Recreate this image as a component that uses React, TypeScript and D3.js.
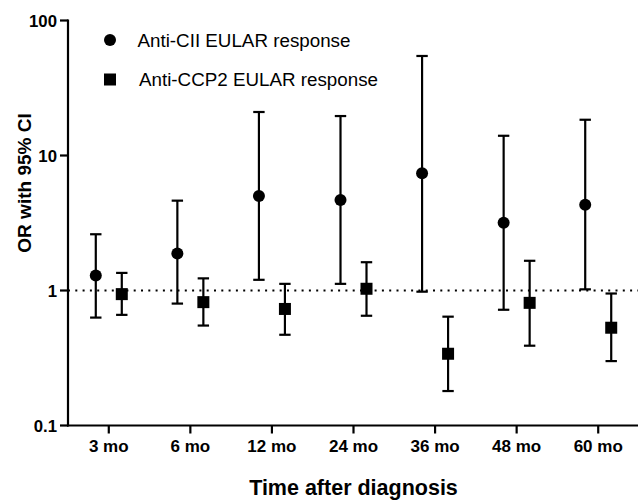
import React from "react";
import * as d3 from "d3";

const categories = ["3 mo", "6 mo", "12 mo", "24 mo", "36 mo", "48 mo", "60 mo"];
const ciiOR = [1.29, 1.88, 5.01, 4.68, 7.38, 3.18, 4.32];
const ciiLow = [0.63, 0.8, 1.2, 1.12, 0.98, 0.72, 1.02];
const ciiHigh = [2.61, 4.63, 21.0, 19.6, 54.6, 14.0, 18.4];
const ccpOR = [0.94, 0.82, 0.73, 1.03, 0.34, 0.81, 0.53];
const ccpLow = [0.66, 0.55, 0.47, 0.65, 0.18, 0.39, 0.3];
const ccpHigh = [1.35, 1.23, 1.12, 1.62, 0.64, 1.66, 0.95];
const yTicks = [0.1, 1, 10, 100];
const yTickLabels = ["0.1", "1", "10", "100"];
const legendLabels = ["Anti-CII EULAR response", "Anti-CCP2 EULAR response"];

const W = 638;
const H = 500;
const FONT = "'Liberation Sans', Arial, Helvetica, sans-serif";

export default function App() {
  const x = d3.scaleBand<string>().domain(categories).range([68, 639]).padding(0);
  const y = d3.scaleLog().domain([0.1, 100]).range([425.5, 20.5]);
  const cx = (c: string) => (x(c) as number) + x.bandwidth() / 2;
  const off = 13;
  const cap = 5.7;
  const sw = 2.2;

  const errorBar = (xc: number, lo: number, hi: number, key: string) => (
    <g key={key} stroke="#000" strokeWidth={sw} fill="none">
      <line x1={xc} x2={xc} y1={y(lo)} y2={y(hi)} />
      <line x1={xc - cap} x2={xc + cap} y1={y(lo)} y2={y(lo)} />
      <line x1={xc - cap} x2={xc + cap} y1={y(hi)} y2={y(hi)} />
    </g>
  );

  return (
    <div style={{ position: "absolute", left: 0, top: 0 }}>
      <svg width={W} height={H} style={{ display: "block", background: "#fff" }}>
        {/* reference line at 1 */}
        <line x1={68} x2={638} y1={y(1)} y2={y(1)} stroke="#000" strokeWidth={2} strokeDasharray="2,5.3" />

        {/* error bars and markers */}
        {categories.map((c, i) => errorBar(cx(c) - off, ciiLow[i], ciiHigh[i], "ce" + i))}
        {categories.map((c, i) => errorBar(cx(c) + off, ccpLow[i], ccpHigh[i], "pe" + i))}
        {categories.map((c, i) => (
          <circle key={"cm" + i} cx={cx(c) - off} cy={y(ciiOR[i])} r={6} fill="#000" />
        ))}
        {categories.map((c, i) => (
          <rect key={"pm" + i} x={cx(c) + off - 6} y={y(ccpOR[i]) - 6} width={12} height={12} fill="#000" />
        ))}

        {/* y axis */}
        <line x1={68} x2={68} y1={y(100) - 1} y2={y(0.1) + 1} stroke="#000" strokeWidth={2.2} />
        {yTicks.map((t, i) => (
          <g key={"yt" + i}>
            <line x1={60} x2={68} y1={y(t)} y2={y(t)} stroke="#000" strokeWidth={2.2} />
            <text x={57} y={y(t) + 6} textAnchor="end" fontFamily={FONT} fontWeight="bold" fontSize={16.8} fill="#000">
              {yTickLabels[i]}
            </text>
          </g>
        ))}

        {/* x axis */}
        <line x1={67} x2={639} y1={y(0.1)} y2={y(0.1)} stroke="#000" strokeWidth={2.2} />
        {categories.map((c, i) => (
          <g key={"xt" + i}>
            <line x1={cx(c)} x2={cx(c)} y1={y(0.1)} y2={y(0.1) + 8} stroke="#000" strokeWidth={2.2} />
            <text x={cx(c)} y={452} textAnchor="middle" fontFamily={FONT} fontWeight="bold" fontSize={17} fill="#000">
              {c}
            </text>
          </g>
        ))}

        {/* axis titles */}
        <text
          transform={`translate(31,183) rotate(-90)`}
          textAnchor="middle"
          fontFamily={FONT}
          fontWeight="bold"
          fontSize={19}
          fill="#000"
        >
          OR with 95% CI
        </text>
        <text x={353.5} y={495} textAnchor="middle" fontFamily={FONT} fontWeight="bold" fontSize={21.5} fill="#000">
          Time after diagnosis
        </text>

        {/* legend */}
        <circle cx={110} cy={40} r={6} fill="#000" />
        <text x={137.5} y={46.5} fontFamily={FONT} fontSize={18.8} fill="#000">
          {legendLabels[0]}
        </text>
        <rect x={104} y={73.5} width={12} height={12} fill="#000" />
        <text x={139} y={85.5} fontFamily={FONT} fontSize={18.8} fill="#000">
          {legendLabels[1]}
        </text>
      </svg>
    </div>
  );
}
